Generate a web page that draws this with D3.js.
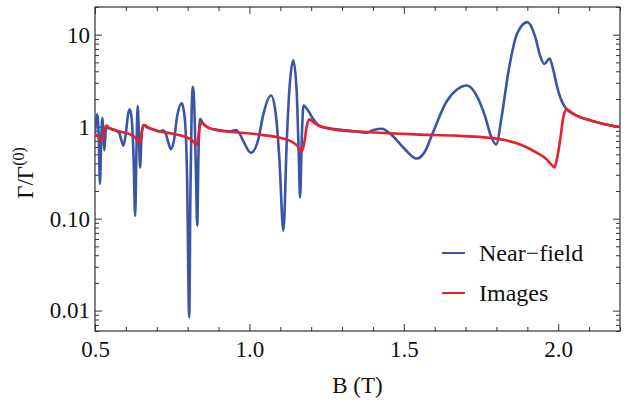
<!DOCTYPE html>
<html>
<head>
<meta charset="utf-8">
<script src="https://cdn.jsdelivr.net/npm/d3@7"></script>
<style>
  body { margin: 0; background: #fff; }
  svg text { font-family: "Liberation Serif", "Times New Roman", serif !important; fill: #111; }
</style>
</head>
<body>
<svg id="chart" width="640" height="405"></svg>
<script>
// values: [B (T), Gamma/Gamma0]
const nearField = [
  [0.500, 0.85], [0.507, 1.35], [0.512, 0.8], [0.516, 0.24], [0.520, 0.7],
  [0.524, 1.25], [0.527, 0.9], [0.530, 0.55], [0.536, 0.98], [0.545, 0.96],
  [0.565, 0.91], [0.578, 0.86], [0.585, 0.72], [0.592, 0.62], [0.600, 0.85],
  [0.607, 1.35], [0.613, 1.54], [0.619, 1.2], [0.625, 0.45], [0.630, 0.107],
  [0.634, 0.5], [0.638, 1.67], [0.642, 0.9], [0.646, 0.36], [0.650, 0.7],
  [0.656, 1.04], [0.670, 0.98], [0.690, 0.93], [0.710, 0.89], [0.720, 0.91],
  [0.728, 0.86], [0.736, 0.70], [0.746, 0.57], [0.756, 0.72], [0.766, 1.3],
  [0.781, 1.79], [0.791, 1.2], [0.798, 0.3], [0.805, 0.0085], [0.809, 0.2],
  [0.813, 1.5], [0.817, 2.71], [0.822, 1.5], [0.827, 0.3], [0.831, 0.084],
  [0.835, 0.5], [0.840, 1.22], [0.850, 1.08], [0.866, 0.97], [0.900, 0.92],
  [0.935, 0.89], [0.957, 0.92], [0.970, 0.82], [0.980, 0.70], [1.005, 0.52],
  [1.029, 0.73], [1.045, 1.36], [1.070, 2.18], [1.085, 1.4], [1.097, 0.45],
  [1.110, 0.074], [1.121, 0.70], [1.129, 2.4], [1.142, 5.27], [1.153, 2.43],
  [1.160, 0.46], [1.164, 0.17], [1.170, 0.82], [1.175, 1.70], [1.191, 1.48],
  [1.207, 1.20], [1.229, 1.01], [1.290, 0.93], [1.337, 0.89], [1.380, 0.86],
  [1.402, 0.92], [1.429, 0.95], [1.456, 0.84], [1.499, 0.59], [1.542, 0.45],
  [1.569, 0.54], [1.591, 0.81], [1.639, 1.89], [1.672, 2.53], [1.704, 2.80],
  [1.737, 2.14], [1.763, 1.30], [1.782, 0.79], [1.799, 0.64], [1.817, 1.30],
  [1.839, 4.0], [1.866, 10.1], [1.900, 13.7], [1.925, 9.6], [1.942, 5.8],
  [1.955, 4.8], [1.972, 5.5], [1.985, 4.0], [1.996, 2.75], [2.007, 2.06],
  [2.018, 1.71], [2.028, 1.54], [2.045, 1.40], [2.070, 1.27], [2.100, 1.18],
  [2.150, 1.06], [2.200, 0.99]
];

const images = [
  [0.500, 0.83], [0.510, 0.78], [0.517, 0.73], [0.522, 0.70], [0.527, 0.78],
  [0.532, 0.95], [0.537, 1.03], [0.545, 0.98], [0.565, 0.92], [0.590, 0.87],
  [0.615, 0.82], [0.630, 0.76], [0.638, 0.70], [0.643, 0.66], [0.648, 0.75],
  [0.654, 0.97], [0.660, 1.04], [0.675, 0.97], [0.700, 0.90], [0.750, 0.84],
  [0.790, 0.78], [0.812, 0.72], [0.823, 0.66], [0.829, 0.63], [0.834, 0.75],
  [0.840, 1.02], [0.846, 1.10], [0.860, 1.01], [0.880, 0.94], [0.920, 0.89],
  [0.970, 0.86], [1.030, 0.82], [1.089, 0.77], [1.132, 0.70], [1.155, 0.62],
  [1.170, 0.54], [1.178, 0.68], [1.186, 1.02], [1.194, 1.20], [1.210, 1.10],
  [1.229, 1.01], [1.260, 0.95], [1.294, 0.91], [1.337, 0.89], [1.450, 0.85],
  [1.553, 0.82], [1.660, 0.80], [1.769, 0.76], [1.830, 0.71], [1.877, 0.64],
  [1.931, 0.52], [1.963, 0.44], [1.980, 0.38], [1.988, 0.36], [1.996, 0.45],
  [2.007, 0.75], [2.017, 1.30], [2.028, 1.54], [2.045, 1.40], [2.070, 1.27],
  [2.100, 1.18], [2.150, 1.06], [2.200, 0.99]
];

const seriesNames = ["Near\u2212field", "Images"];
const seriesColors = ["#3a55a6", "#e8212b"];

const xTicks = [0.5, 1.0, 1.5, 2.0];
const xTickLabels = ["0.5", "1.0", "1.5", "2.0"];
const yTicks = [0.01, 0.1, 1, 10];
const yTickLabels = ["0.01", "0.10", "1", "10"];

const FONT = "Liberation Serif";
const width = 640;
const height = 405;
const margin = { top: 7, right: 20, bottom: 74, left: 95 };
const plotW = width - margin.left - margin.right;
const plotH = height - margin.top - margin.bottom;

const svg = d3.select("#chart");

const x = d3.scaleLinear().domain([0.5, 2.2]).range([0, plotW]);
const y = d3.scaleLog().domain([0.006, 20]).range([plotH, 0]);

const g = svg.append("g").attr("transform", `translate(${margin.left},${margin.top})`);

svg.append("defs").append("clipPath").attr("id", "clip")
  .append("rect").attr("width", plotW).attr("height", plotH);

// minor ticks
const xMinor = d3.range(5, 23).map((d) => d / 10).filter((d) => !xTicks.some((t) => Math.abs(t - d) < 1e-9));
const yMinor = y.ticks().filter((d) => !yTicks.some((t) => Math.abs(t - d) < 1e-12));

const axisStyle = (sel) => {
  sel.attr("font-family", FONT);
  sel.selectAll("text").attr("font-size", 23).attr("font-family", FONT).attr("fill", "#111");
  sel.selectAll("line").attr("stroke", "#333");
  sel.select(".domain").remove();
};

// bottom
g.append("g").attr("transform", `translate(0,${plotH})`)
  .call(d3.axisBottom(x).tickValues(xTicks).tickFormat((d, i) => xTickLabels[i]).tickSize(-7).tickPadding(10))
  .call(axisStyle);
g.append("g").attr("transform", `translate(0,${plotH})`)
  .call(d3.axisBottom(x).tickValues(xMinor).tickFormat("").tickSize(-4))
  .call(axisStyle);
// top
g.append("g")
  .call(d3.axisTop(x).tickValues(xTicks).tickFormat("").tickSize(-7))
  .call(axisStyle);
g.append("g")
  .call(d3.axisTop(x).tickValues(xMinor).tickFormat("").tickSize(-4))
  .call(axisStyle);
// left
g.append("g")
  .call(d3.axisLeft(y).tickValues(yTicks).tickFormat((d, i) => yTickLabels[i]).tickSize(-7).tickPadding(5))
  .call(axisStyle);
g.append("g")
  .call(d3.axisLeft(y).tickValues(yMinor).tickFormat("").tickSize(-4))
  .call(axisStyle);
// right
g.append("g").attr("transform", `translate(${plotW},0)`)
  .call(d3.axisRight(y).tickValues(yTicks).tickFormat("").tickSize(-7))
  .call(axisStyle);
g.append("g").attr("transform", `translate(${plotW},0)`)
  .call(d3.axisRight(y).tickValues(yMinor).tickFormat("").tickSize(-4))
  .call(axisStyle);

// frame
g.append("rect").attr("width", plotW).attr("height", plotH)
  .attr("fill", "none").attr("stroke", "#333").attr("stroke-width", 1.2);

const line = d3.line()
  .x((d) => x(d[0]))
  .y((d) => y(d[1]))
  .curve(d3.curveMonotoneX);

const lines = g.append("g").attr("clip-path", "url(#clip)");
[nearField, images].forEach((data, i) => {
  lines.append("path")
    .datum(data)
    .attr("d", line)
    .attr("fill", "none")
    .attr("stroke", seriesColors[i])
    .attr("stroke-width", 2.6)
    .attr("stroke-linejoin", "round")
    .attr("stroke-linecap", "round");
});

// axis labels
svg.append("text")
  .attr("x", margin.left + plotW / 2)
  .attr("y", 393)
  .attr("text-anchor", "middle")
  .attr("font-family", FONT)
  .attr("font-size", 23)
  .text("B (T)");

const yl = svg.append("text")
  .attr("transform", `translate(33,${margin.top + plotH / 2 + 4}) rotate(-90)`)
  .attr("text-anchor", "middle")
  .attr("font-family", FONT)
  .attr("font-size", 23);
yl.append("tspan").text("\u0393/\u0393");
yl.append("tspan").attr("font-size", 16).attr("dy", -9).text("(0)");

// legend
const legend = svg.append("g").attr("transform", "translate(442,253)");
seriesNames.forEach((name, i) => {
  const row = legend.append("g").attr("transform", `translate(0,${i * 40})`);
  row.append("line").attr("x1", 0).attr("x2", 23).attr("y1", 0).attr("y2", 0)
    .attr("stroke", seriesColors[i]).attr("stroke-width", 2);
  row.append("text").attr("x", 37).attr("y", 8)
    .attr("font-family", FONT).attr("font-size", 24).text(name);
});
</script>
</body>
</html>
